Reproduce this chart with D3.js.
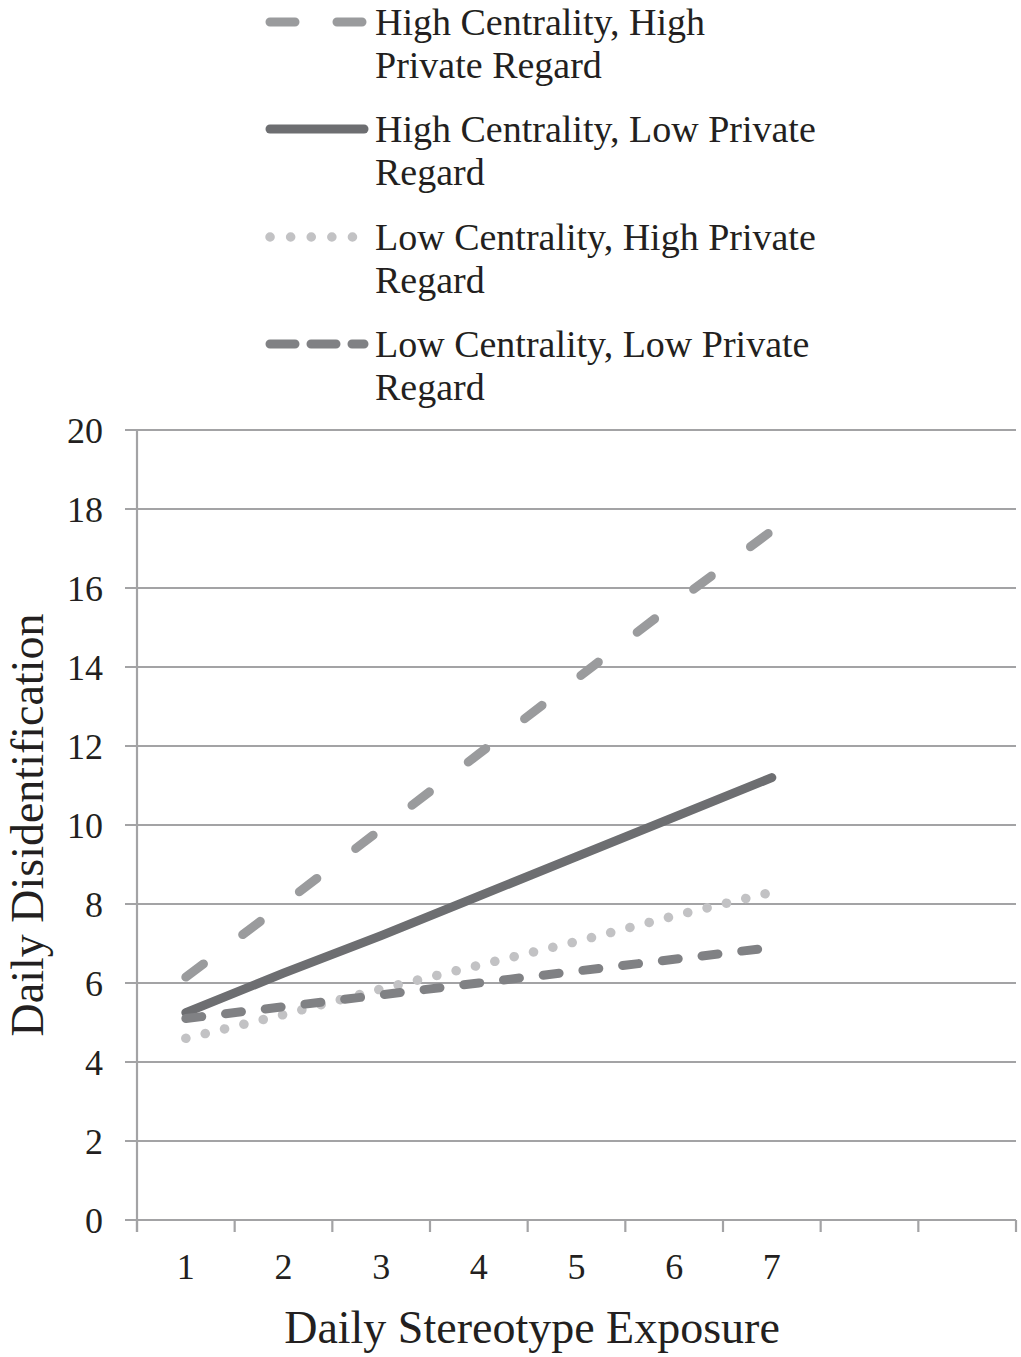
<!DOCTYPE html>
<html><head><meta charset="utf-8">
<script src="https://cdn.jsdelivr.net/npm/d3@7"></script>
<style>html,body{margin:0;padding:0;background:#fff}</style>
</head><body>
<svg id="chart" width="1021" height="1357"></svg>
<script>
const categories = [1,2,3,4,5,6,7,8,9];
const tickLabels = ["1","2","3","4","5","6","7","",""];
const xPoints = [1,2,3,4,5,6,7];
const yTicks = [0,2,4,6,8,10,12,14,16,18,20];
const seriesNames = ["High Centrality, High Private Regard","High Centrality, Low Private Regard","Low Centrality, High Private Regard","Low Centrality, Low Private Regard"];
const legendLines = [["High Centrality, High","Private Regard"],["High Centrality, Low Private","Regard"],["Low Centrality, High Private","Regard"],["Low Centrality, Low Private","Regard"]];
const hcHighPR = [6.15,8.0,9.9,11.8,13.7,15.6,17.45];
const hcLowPR  = [5.25,6.25,7.2,8.2,9.2,10.2,11.2];
const lcHighPR = [4.6,5.2,5.85,6.45,7.05,7.7,8.3];
const lcLowPR  = [5.1,5.4,5.7,6.0,6.3,6.6,6.9];
const seriesValues = [hcHighPR,hcLowPR,lcHighPR,lcLowPR];

const styles = [
  {color:"#9a9b9d", dash:"22,49", width:9},
  {color:"#6d6e71", dash:null, width:9},
  {color:"#c2c2c4", dash:"0.1,19.8", width:9.5},
  {color:"#808184", dash:"16,24", width:9}
];
const FONT = "'Liberation Serif', serif";
const TXT = "#231f20";
const svg = d3.select("#chart");
const L = 137, R = 1016, T = 430, B = 1220;
const x = d3.scaleBand().domain(categories).range([L,R]).padding(0);
const y = d3.scaleLinear().domain([0,20]).range([B,T]);
const gridColor = "#a3a3a5";

// gridlines
svg.append("g").selectAll("line").data(yTicks).join("line")
  .attr("x1",125).attr("x2",R).attr("y1",d=>y(d)).attr("y2",d=>y(d))
  .attr("stroke",gridColor).attr("stroke-width",2.2);
// y axis line
svg.append("line").attr("x1",L).attr("x2",L).attr("y1",T).attr("y2",B+12)
  .attr("stroke",gridColor).attr("stroke-width",2.2);
// x ticks
const bounds = categories.map(c=>x(c)).concat([R]);
svg.append("g").selectAll("line").data(bounds).join("line")
  .attr("x1",d=>d).attr("x2",d=>d).attr("y1",B).attr("y2",B+12)
  .attr("stroke",gridColor).attr("stroke-width",2.2);
// y tick labels
svg.append("g").selectAll("text").data(yTicks).join("text")
  .attr("x",103).attr("y",d=>y(d)).attr("dy","0.35em").attr("text-anchor","end")
  .attr("font-family",FONT).attr("font-size",36).attr("fill",TXT).text(d=>d);
// x tick labels
svg.append("g").selectAll("text").data(categories).join("text")
  .attr("x",d=>x(d)+x.bandwidth()/2).attr("y",1279).attr("text-anchor","middle")
  .attr("font-family",FONT).attr("font-size",36).attr("fill",TXT).text((d,i)=>tickLabels[i]);
// axis titles
svg.append("text").attr("x",532).attr("y",1343).attr("text-anchor","middle")
  .attr("font-family",FONT).attr("font-size",46).attr("fill",TXT).text("Daily Stereotype Exposure");
svg.append("text").attr("transform","translate(43,825) rotate(-90)").attr("text-anchor","middle")
  .attr("font-family",FONT).attr("font-size",46).attr("fill",TXT).text("Daily Disidentification");

// lines
const line = d3.line().x((d,i)=>x(xPoints[i])+x.bandwidth()/2).y(d=>y(d));
seriesValues.forEach((vals,k)=>{
  const s = styles[k];
  svg.append("path").datum(vals).attr("d",line).attr("fill","none")
    .attr("stroke",s.color).attr("stroke-width",s.width).attr("stroke-linecap","round")
    .attr("stroke-dasharray",s.dash);
});

// legend
const legY = [22,129,237,344];
legendLines.forEach((lines,k)=>{
  const s = styles[k];
  const g = svg.append("g");
  g.append("line").attr("x1",270).attr("x2",364).attr("y1",legY[k]).attr("y2",legY[k])
    .attr("stroke",s.color).attr("stroke-width",s.width).attr("stroke-linecap","round")
    .attr("stroke-dasharray",k===0?"25,42":k===2?"0.1,20.5":k===3?"25,16":null);
  const t = g.append("text").attr("font-family",FONT).attr("font-size",38).attr("fill",TXT);
  lines.forEach((ln,j)=>{
    t.append("tspan").attr("x",375).attr("y",legY[k]+13+j*43).text(ln);
  });
});
</script>
</body></html>
